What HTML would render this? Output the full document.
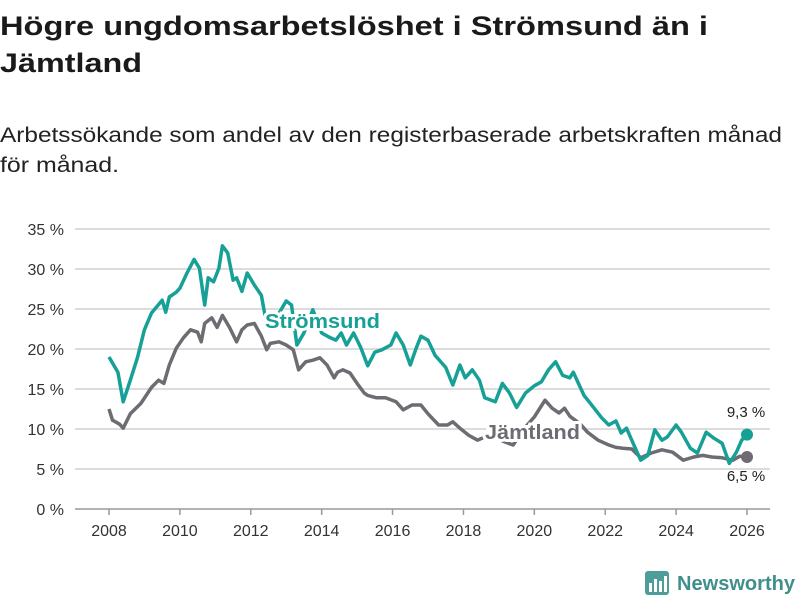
<!DOCTYPE html>
<html><head><meta charset="utf-8"><style>
html,body{margin:0;padding:0;background:#fff;}
svg{display:block;font-family:"Liberation Sans",sans-serif;}
</style></head><body>
<svg id="chart" width="800" height="600">
<text x="0" y="35" font-size="27" font-weight="bold" fill="#1a1a1a" textLength="708" lengthAdjust="spacingAndGlyphs">Högre ungdomsarbetslöshet i Strömsund än i</text>
<text x="0" y="72" font-size="27" font-weight="bold" fill="#1a1a1a" textLength="142" lengthAdjust="spacingAndGlyphs">Jämtland</text>
<text x="0" y="142" font-size="21" fill="#222" textLength="782" lengthAdjust="spacingAndGlyphs">Arbetssökande som andel av den registerbaserade arbetskraften månad</text>
<text x="0" y="172" font-size="21" fill="#222" textLength="119" lengthAdjust="spacingAndGlyphs">för månad.</text>
<g id="grid"></g><g id="xaxis"></g><g id="lines"></g><g id="labels"></g>
<g>
<rect x="645" y="571" width="24" height="24" rx="3" fill="#4d9e9a"/>
<rect x="649" y="583" width="3" height="9" fill="#fff"/><rect x="654" y="579" width="3" height="13" fill="#fff"/><rect x="659" y="581" width="3" height="11" fill="#fff"/><rect x="664" y="576" width="3" height="16" fill="#fff"/>
<text x="677" y="590" font-size="20" font-weight="bold" fill="#3f8f8c" textLength="118" lengthAdjust="spacingAndGlyphs">Newsworthy</text>
</g>
</svg>
<script>
const yTicks=[0,5,10,15,20,25,30,35];
const xTicks=[2008,2010,2012,2014,2016,2018,2020,2022,2024,2026];
const stromDates=[2008.0,2008.25,2008.4,2008.6,2008.8,2009.0,2009.2,2009.5,2009.6,2009.7,2009.9,2010.0,2010.2,2010.4,2010.55,2010.7,2010.8,2010.95,2011.1,2011.2,2011.35,2011.5,2011.6,2011.75,2011.9,2012.1,2012.3,2012.4,2012.6,2012.8,2013.0,2013.15,2013.3,2013.5,2013.75,2014.0,2014.2,2014.4,2014.55,2014.7,2014.9,2015.1,2015.3,2015.5,2015.7,2015.95,2016.1,2016.3,2016.5,2016.65,2016.8,2017.0,2017.2,2017.5,2017.7,2017.9,2018.05,2018.25,2018.45,2018.6,2018.9,2019.1,2019.3,2019.5,2019.75,2020.0,2020.2,2020.4,2020.6,2020.8,2021.0,2021.1,2021.4,2021.6,2021.9,2022.1,2022.3,2022.45,2022.6,2022.85,2023.0,2023.2,2023.4,2023.6,2023.75,2024.0,2024.15,2024.4,2024.6,2024.85,2025.05,2025.3,2025.5,2025.7,2025.85,2026.0];
const stromValues=[19.0,17.1,13.4,16.1,18.9,22.4,24.5,26.1,24.6,26.5,27.1,27.6,29.5,31.2,30.1,25.5,28.9,28.4,30.1,32.9,32.0,28.6,28.9,27.2,29.5,28.0,26.7,24.2,23.2,24.5,26.0,25.5,20.5,22.0,24.9,22.0,21.5,21.1,22.0,20.5,22.0,20.2,17.9,19.6,19.9,20.5,22.0,20.5,18.0,19.9,21.6,21.1,19.2,17.7,15.5,18.0,16.4,17.4,16.1,13.9,13.4,15.7,14.5,12.7,14.5,15.4,15.9,17.4,18.4,16.7,16.4,17.1,14.2,13.1,11.4,10.5,11.0,9.5,10.1,7.6,6.1,6.7,9.9,8.6,9.0,10.5,9.6,7.6,7.0,9.6,8.9,8.2,5.7,7.1,8.6,9.3];
const jamtDates=[2008.0,2008.1,2008.3,2008.4,2008.6,2008.9,2009.2,2009.4,2009.55,2009.7,2009.9,2010.1,2010.3,2010.5,2010.6,2010.7,2010.9,2011.05,2011.2,2011.4,2011.6,2011.75,2011.9,2012.1,2012.3,2012.45,2012.55,2012.8,2013.0,2013.2,2013.35,2013.55,2013.75,2013.95,2014.15,2014.35,2014.45,2014.6,2014.8,2015.0,2015.2,2015.3,2015.55,2015.8,2016.1,2016.3,2016.55,2016.8,2017.0,2017.3,2017.55,2017.7,2017.9,2018.15,2018.4,2018.6,2018.9,2019.1,2019.4,2019.7,2020.0,2020.3,2020.5,2020.7,2020.85,2021.0,2021.3,2021.5,2021.8,2022.1,2022.3,2022.5,2022.75,2023.0,2023.3,2023.6,2023.9,2024.2,2024.5,2024.75,2025.0,2025.3,2025.6,2025.8,2026.0];
const jamtValues=[12.5,11.1,10.6,10.1,11.9,13.2,15.2,16.1,15.7,18.0,20.1,21.4,22.4,22.1,20.9,23.2,23.9,22.7,24.2,22.7,20.9,22.4,23.0,23.2,21.6,19.9,20.7,20.9,20.5,19.9,17.4,18.4,18.6,18.9,18.0,16.4,17.1,17.4,17.0,15.7,14.5,14.2,13.9,13.9,13.4,12.4,13.0,13.0,11.9,10.5,10.5,10.9,10.1,9.2,8.6,9.0,9.5,8.5,8.0,10.0,11.5,13.6,12.6,12.0,12.6,11.6,10.6,9.6,8.6,8.0,7.7,7.6,7.5,6.4,7.0,7.4,7.1,6.1,6.5,6.7,6.5,6.4,6.1,6.6,6.5];
const NS="http://www.w3.org/2000/svg";
function X(t){return 109+(t-2008)*(747-109)/18;}
function Y(v){return 509-v*8;}
function mk(tag,attrs,parent){const e=document.createElementNS(NS,tag);for(const k in attrs)e.setAttribute(k,attrs[k]);parent.appendChild(e);return e;}
const grid=document.getElementById('grid');
yTicks.forEach(v=>{
 const l=mk('line',{x1:75,x2:770,y1:Y(v),y2:Y(v),stroke:v===0?'#999':'#dcdcdc','stroke-width':v===0?1.5:2},grid);
 
 
 const t=mk('text',{x:64,y:Y(v)+6,'font-size':16,'text-anchor':'end',fill:'#333'},grid);
 t.textContent=v+' %';
 
 
});
const xa=document.getElementById('xaxis');
xTicks.forEach(y=>{
 const l=mk('line',{x1:X(y),x2:X(y),y1:509,y2:515,stroke:'#999','stroke-width':1.5},xa);
 
 
 const t=mk('text',{x:X(y),y:536,'font-size':16,'text-anchor':'middle',fill:'#333'},xa);
 t.textContent=y;
 
 
});
const lines=document.getElementById('lines');
function draw(d,v,col,name){
 const p=mk('path',{d:d.map((t,i)=>(i?'L':'M')+X(t).toFixed(1)+','+Y(v[i]).toFixed(1)).join(''),fill:'none',stroke:col,'stroke-width':3.5,'stroke-linejoin':'round'},lines);
 
 
 const c=mk('circle',{cx:X(d[d.length-1]),cy:Y(v[v.length-1]),r:6,fill:col},lines);
 
 
}
draw(jamtDates,jamtValues,'#6e6c72','jamtland');
draw(stromDates,stromValues,'#16a096','stromsund');
const lb=document.getElementById('labels');
function lab(x,y,txt,col,bold,anchor,name,size,len){
 const t=mk('text',{x:x,y:y,'font-size':size||19,'font-weight':bold?'bold':'normal','text-anchor':anchor||'start',fill:col,stroke:'#fff','stroke-width':bold?6:0,'paint-order':'stroke'},lb);
 if(len){t.setAttribute('textLength',len);t.setAttribute('lengthAdjust','spacingAndGlyphs');}
 t.textContent=txt;
 
 
}
lab(265,328,'Strömsund','#16a096',true,'start','stromsund-label',20,115);
lab(485,439,'Jämtland','#6e6c72',true,'start','jamtland-label',20,95);
lab(746,417,'9,3 %','#222',false,'middle','stromsund-value-label',15);
lab(746,481,'6,5 %','#222',false,'middle','jamtland-value-label',15);
</script>
</body></html>
